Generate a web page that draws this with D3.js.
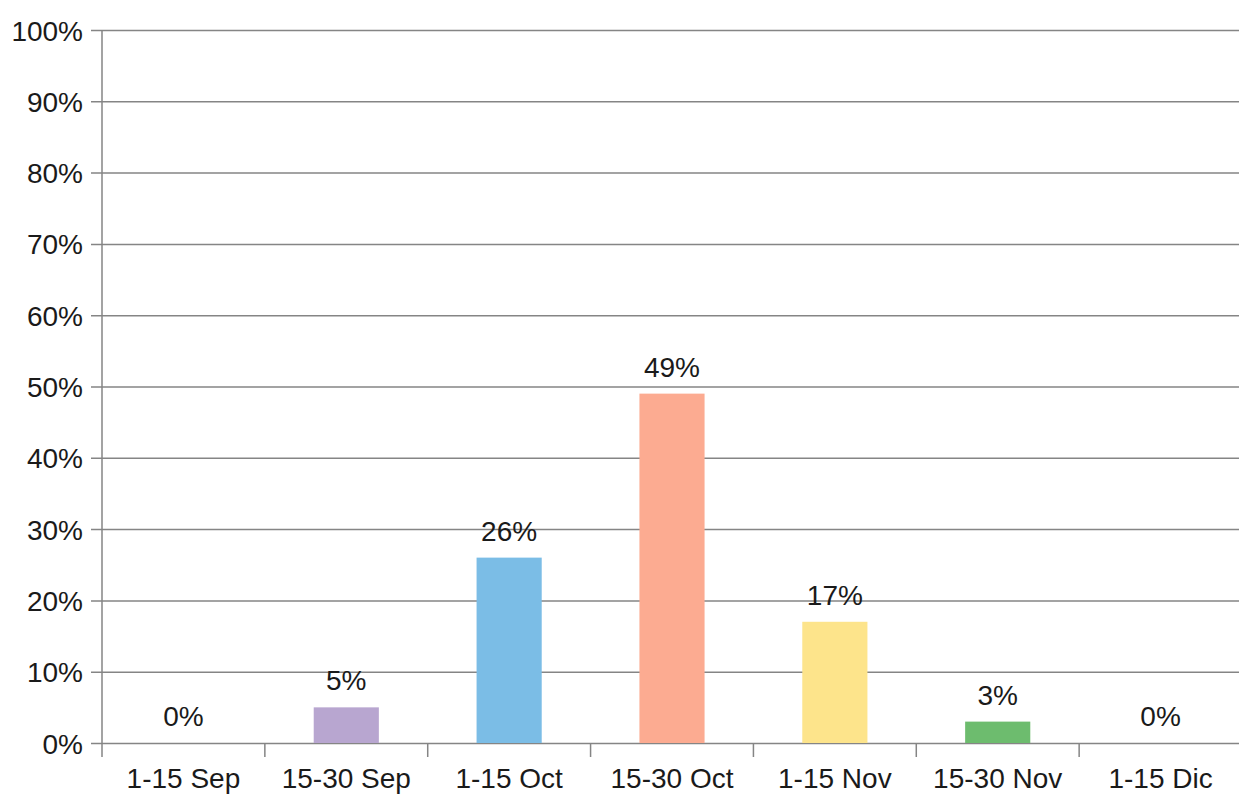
<!DOCTYPE html>
<html>
<head>
<meta charset="utf-8">
<script src="https://cdn.jsdelivr.net/npm/d3@7"></script>
<style>
  body { margin: 0; background: #fff; }
  text { font-family: "Liberation Sans", Arial, sans-serif; }
</style>
</head>
<body>
<div id="chart"></div>
<script>
// data
var periods = ["1-15 Sep", "15-30 Sep", "1-15 Oct", "15-30 Oct", "1-15 Nov", "15-30 Nov", "1-15 Dic"];
var shares = [0, 5, 26, 49, 17, 3, 0];
var barColors = ["#b8a6d0", "#b8a6d0", "#7bbde6", "#fcab91", "#fde48b", "#6dbc6e", "#6dbc6e"];
var yTicks = [0, 10, 20, 30, 40, 50, 60, 70, 80, 90, 100];

var W = 1239, H = 796;
var margin = {top: 30, right: -3, bottom: 53, left: 102},
    width = W - margin.left - margin.right,
    height = H - margin.top - margin.bottom;

var svg = d3.select("#chart")
  .append("svg")
    .attr("width", W)
    .attr("height", H)
  .append("g")
    .attr("transform", "translate(" + margin.left + "," + margin.top + ")");

var x = d3.scaleBand()
  .domain(periods)
  .range([0, width])
  .padding(0);

var y = d3.scaleLinear()
  .domain([0, 100])
  .range([height, 0]);

// horizontal grid lines with the left ticks
svg.append("g")
  .call(d3.axisLeft(y).tickValues(yTicks).tickSize(-width - 20).tickPadding(19)
    .tickFormat(function(d) { return d + "%"; }))
  .call(function(g) {
    g.select(".domain").remove();
    g.selectAll(".tick line").attr("x1", -11).attr("stroke", "#858585").attr("stroke-width", 1.5);
    g.selectAll(".tick text").attr("font-size", 28).attr("fill", "#1a1a1a").attr("dy", "0.36em");
  });

// left axis line
svg.append("line")
  .attr("x1", 0).attr("x2", 0)
  .attr("y1", 0).attr("y2", height)
  .attr("stroke", "#858585").attr("stroke-width", 1.5);

// bars
var barW = x.bandwidth() * 0.4;
svg.selectAll("rect.bar")
  .data(periods)
  .enter()
  .append("rect")
    .attr("class", "bar")
    .attr("x", function(d) { return x(d) + (x.bandwidth() - barW) / 2; })
    .attr("y", function(d, i) { return y(shares[i]); })
    .attr("width", barW)
    .attr("height", function(d, i) { return height - y(shares[i]); })
    .attr("fill", function(d, i) { return barColors[i]; });

// bottom axis with category ticks
svg.append("g")
  .attr("transform", "translate(0," + height + ")")
  .call(d3.axisBottom(x).tickSize(0).tickPadding(25))
  .call(function(g) {
    g.select(".domain").remove();
    g.selectAll(".tick text").attr("font-size", 28).attr("fill", "#1a1a1a");
  });

svg.append("g")
  .selectAll("line")
  .data(periods)
  .enter()
  .append("line")
    .attr("x1", function(d) { return x(d); })
    .attr("x2", function(d) { return x(d); })
    .attr("y1", height)
    .attr("y2", height + 14)
    .attr("stroke", "#858585").attr("stroke-width", 1.5);

// value labels above the bars
svg.selectAll("text.val")
  .data(periods)
  .enter()
  .append("text")
    .attr("class", "val")
    .attr("x", function(d) { return x(d) + x.bandwidth() / 2; })
    .attr("y", function(d, i) { return y(shares[i]) - 17; })
    .attr("text-anchor", "middle")
    .attr("font-size", 28)
    .attr("fill", "#1a1a1a")
    .text(function(d, i) { return shares[i] + "%"; });
</script>
</body>
</html>
